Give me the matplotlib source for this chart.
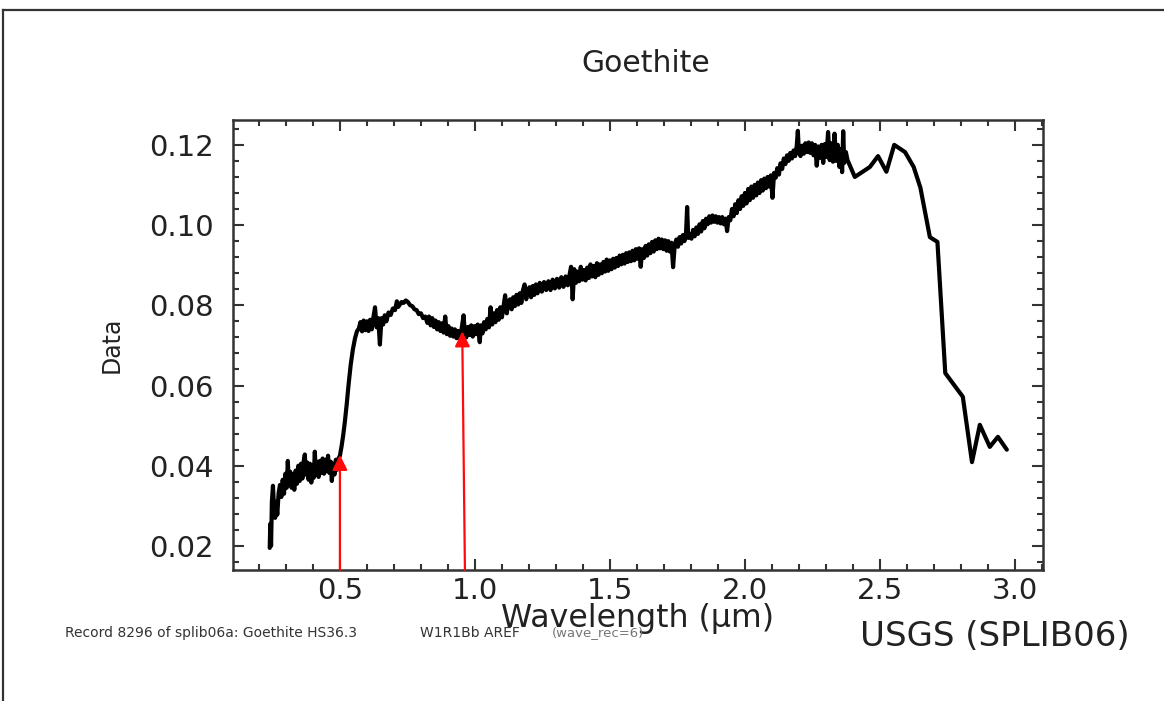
import matplotlib
matplotlib.use("Agg")
import matplotlib.pyplot as plt
from matplotlib.lines import Line2D
from matplotlib.ticker import MultipleLocator

plt.rcParams['font.family'] = ['DejaVu Sans']

# Reflectance spectrum of goethite (wavelength in micrometres, reflectance)
wavelength = [
    0.240, 0.242, 0.245, 0.248, 0.252, 0.256, 0.260, 0.264, 0.268, 0.273,
    0.278, 0.283, 0.288, 0.293, 0.298, 0.303, 0.307, 0.311, 0.316, 0.321,
    0.326, 0.331, 0.336, 0.341, 0.346, 0.351, 0.356, 0.361, 0.366, 0.370,
    0.374, 0.379, 0.384, 0.389, 0.394, 0.399, 0.403, 0.407, 0.411, 0.416,
    0.421, 0.426, 0.431, 0.436, 0.441, 0.446, 0.451, 0.456, 0.461, 0.466,
    0.470, 0.475, 0.480, 0.485, 0.490, 0.495, 0.500, 0.506, 0.512, 0.518,
    0.525, 0.532, 0.540, 0.548, 0.556, 0.563, 0.570, 0.576, 0.582, 0.588,
    0.594, 0.600, 0.606, 0.612, 0.618, 0.624, 0.630, 0.636, 0.642, 0.648,
    0.654, 0.660, 0.666, 0.672, 0.680, 0.688, 0.696, 0.704, 0.711, 0.716,
    0.722, 0.728, 0.736, 0.744, 0.752, 0.760, 0.768, 0.776, 0.784, 0.792,
    0.800, 0.808, 0.816, 0.824, 0.830, 0.836, 0.842, 0.848, 0.854, 0.860,
    0.866, 0.872, 0.878, 0.884, 0.890, 0.896, 0.902, 0.908, 0.914, 0.920,
    0.926, 0.932, 0.938, 0.944, 0.950, 0.958, 0.962, 0.968, 0.974, 0.980,
    0.986, 0.992, 0.998, 1.004, 1.010, 1.018, 1.022, 1.028, 1.034, 1.040,
    1.046, 1.052, 1.058, 1.064, 1.070, 1.076, 1.082, 1.088, 1.094, 1.100,
    1.106, 1.112, 1.118, 1.124, 1.130, 1.136, 1.142, 1.148, 1.154, 1.160,
    1.166, 1.172, 1.178, 1.184, 1.190, 1.196, 1.202, 1.208, 1.214, 1.220,
    1.226, 1.232, 1.240, 1.248, 1.256, 1.264, 1.272, 1.280, 1.288, 1.296,
    1.304, 1.312, 1.320, 1.328, 1.336, 1.344, 1.350, 1.356, 1.362, 1.368,
    1.374, 1.380, 1.386, 1.392, 1.398, 1.404, 1.410, 1.416, 1.422, 1.428,
    1.434, 1.440, 1.446, 1.452, 1.458, 1.464, 1.470, 1.476, 1.482, 1.488,
    1.494, 1.500, 1.506, 1.512, 1.518, 1.524, 1.530, 1.536, 1.542, 1.548,
    1.554, 1.560, 1.566, 1.572, 1.578, 1.584, 1.590, 1.596, 1.602, 1.608,
    1.614, 1.620, 1.626, 1.632, 1.638, 1.644, 1.650, 1.656, 1.662, 1.668,
    1.674, 1.680, 1.686, 1.692, 1.698, 1.704, 1.710, 1.716, 1.722, 1.728,
    1.734, 1.740, 1.746, 1.752, 1.758, 1.764, 1.770, 1.776, 1.782, 1.786,
    1.790, 1.796, 1.802, 1.808, 1.814, 1.820, 1.826, 1.832, 1.838, 1.844,
    1.850, 1.856, 1.862, 1.868, 1.874, 1.880, 1.886, 1.892, 1.898, 1.904,
    1.910, 1.916, 1.922, 1.928, 1.934, 1.940, 1.946, 1.952, 1.958, 1.964,
    1.970, 1.976, 1.982, 1.988, 1.994, 2.000, 2.006, 2.012, 2.018, 2.024,
    2.030, 2.036, 2.042, 2.048, 2.054, 2.060, 2.066, 2.072, 2.078, 2.084,
    2.090, 2.096, 2.102, 2.108, 2.114, 2.120, 2.126, 2.132, 2.138, 2.144,
    2.150, 2.156, 2.162, 2.168, 2.174, 2.180, 2.186, 2.192, 2.196, 2.200,
    2.206, 2.212, 2.218, 2.224, 2.230, 2.236, 2.242, 2.248, 2.254, 2.260,
    2.266, 2.272, 2.278, 2.284, 2.290, 2.296, 2.302, 2.308, 2.314, 2.320,
    2.326, 2.332, 2.338, 2.344, 2.350, 2.356, 2.360, 2.364, 2.368, 2.374,
    2.380, 2.407, 2.463, 2.493, 2.524, 2.553, 2.593, 2.625, 2.650, 2.685,
    2.713, 2.742, 2.807, 2.841, 2.870, 2.907, 2.937, 2.970,
]

reflectance = [
    0.0195, 0.0255, 0.0200, 0.0310, 0.0350, 0.0295, 0.0270, 0.0310, 0.0278, 0.0332,
    0.0352, 0.0322, 0.0365, 0.0330, 0.0380, 0.0345, 0.0412, 0.0352, 0.0385, 0.0345,
    0.0378, 0.0340, 0.0388, 0.0355, 0.0400, 0.0362, 0.0405, 0.0368, 0.0412, 0.0428,
    0.0378, 0.0408, 0.0365, 0.0405, 0.0358, 0.0400, 0.0370, 0.0435, 0.0378, 0.0410,
    0.0372, 0.0412, 0.0382, 0.0418, 0.0380, 0.0415, 0.0386, 0.0425, 0.0382, 0.0410,
    0.0362, 0.0405, 0.0378, 0.0415, 0.0390, 0.0418, 0.0425, 0.0448, 0.0475, 0.0508,
    0.0552, 0.0602, 0.0652, 0.0690, 0.0718, 0.0735, 0.0742, 0.0758, 0.0735, 0.0762,
    0.0738, 0.0760, 0.0736, 0.0764, 0.0740, 0.0770, 0.0795, 0.0745, 0.0768, 0.0702,
    0.0768, 0.0752, 0.0775, 0.0760, 0.0782, 0.0776, 0.0792, 0.0788, 0.0810, 0.0796,
    0.0802, 0.0808, 0.0806, 0.0812, 0.0808, 0.0800, 0.0798, 0.0790, 0.0788, 0.0778,
    0.0780, 0.0768, 0.0772, 0.0756, 0.0772, 0.0750, 0.0768, 0.0746, 0.0762, 0.0740,
    0.0758, 0.0736, 0.0755, 0.0732, 0.0772, 0.0728, 0.0748, 0.0724, 0.0742, 0.0722,
    0.0740, 0.0718, 0.0736, 0.0716, 0.0738, 0.0775, 0.0735, 0.0720, 0.0746, 0.0726,
    0.0750, 0.0722, 0.0748, 0.0728, 0.0752, 0.0708, 0.0750, 0.0730, 0.0758, 0.0740,
    0.0766, 0.0745, 0.0795, 0.0752, 0.0780, 0.0758, 0.0788, 0.0764, 0.0795, 0.0770,
    0.0798, 0.0825, 0.0780, 0.0808, 0.0815, 0.0790, 0.0820, 0.0798, 0.0826, 0.0802,
    0.0830, 0.0806, 0.0838, 0.0852, 0.0815, 0.0838, 0.0845, 0.0820, 0.0848, 0.0826,
    0.0852, 0.0830, 0.0856, 0.0834, 0.0858, 0.0838, 0.0860, 0.0838, 0.0864, 0.0842,
    0.0866, 0.0844, 0.0870, 0.0846, 0.0872, 0.0850, 0.0874, 0.0896, 0.0815, 0.0890,
    0.0856, 0.0884, 0.0860, 0.0896, 0.0864, 0.0888, 0.0862, 0.0894, 0.0868, 0.0902,
    0.0872, 0.0898, 0.0870, 0.0905, 0.0876, 0.0902, 0.0880, 0.0908, 0.0884, 0.0914,
    0.0886, 0.0912, 0.0890, 0.0916, 0.0894, 0.0918, 0.0898, 0.0924, 0.0902, 0.0926,
    0.0904, 0.0930, 0.0908, 0.0932, 0.0910, 0.0936, 0.0912, 0.0940, 0.0916, 0.0942,
    0.0896, 0.0940, 0.0918, 0.0948, 0.0924, 0.0952, 0.0930, 0.0958, 0.0934, 0.0962,
    0.0940, 0.0966, 0.0942, 0.0964, 0.0940, 0.0962, 0.0936, 0.0960, 0.0934, 0.0956,
    0.0895, 0.0950, 0.0964, 0.0946, 0.0970, 0.0954, 0.0975, 0.0960, 0.0982, 0.1045,
    0.0968, 0.0978, 0.0966, 0.0988, 0.0972, 0.0994, 0.0978, 0.1002, 0.0984, 0.1010,
    0.0992, 0.1016, 0.1002, 0.1022, 0.1006, 0.1024, 0.1008, 0.1022, 0.1006, 0.1020,
    0.1004, 0.1020, 0.1002, 0.1016, 0.0985, 0.1020, 0.1012, 0.1040, 0.1022, 0.1052,
    0.1030, 0.1062, 0.1040, 0.1072, 0.1048, 0.1080, 0.1054, 0.1090, 0.1062, 0.1096,
    0.1068, 0.1100, 0.1074, 0.1106, 0.1080, 0.1112, 0.1086, 0.1116, 0.1092, 0.1120,
    0.1096, 0.1124, 0.1068, 0.1130, 0.1118, 0.1142, 0.1126, 0.1154, 0.1140, 0.1166,
    0.1152, 0.1174, 0.1160, 0.1180, 0.1166, 0.1186, 0.1172, 0.1198, 0.1235, 0.1180,
    0.1172, 0.1198, 0.1178, 0.1204, 0.1182, 0.1206, 0.1180, 0.1204, 0.1174, 0.1200,
    0.1148, 0.1196, 0.1168, 0.1200, 0.1155, 0.1202, 0.1170, 0.1232, 0.1162, 0.1204,
    0.1158, 0.1228, 0.1160, 0.1200, 0.1145, 0.1190, 0.1132, 0.1234, 0.1155, 0.1182,
    0.1162, 0.1120, 0.1145, 0.1172, 0.1133, 0.1200, 0.1182, 0.1145, 0.1093, 0.0970,
    0.0958, 0.0631, 0.0572, 0.0409, 0.0502, 0.0447, 0.0472, 0.0440,
]

# Absorption features marked with arrows
arrow_base_x = [0.500, 0.963]
arrow_tip_x = [0.500, 0.953]
arrow_tip_y = [0.0427, 0.0735]

x_ticks = [0.5, 1.0, 1.5, 2.0, 2.5, 3.0]
y_ticks = [0.02, 0.04, 0.06, 0.08, 0.10, 0.12]

W, H = 1164, 701
fig = plt.figure(figsize=(W / 100, H / 100), dpi=100)
fig.patch.set_facecolor('white')

ax = fig.add_axes([233 / W, 1 - 570 / H, (1043 - 233) / W, (570 - 120) / H])
ax.set_xlim(0.104, 3.104)
ax.set_ylim(0.014, 0.1262)

ax.plot(wavelength, reflectance, color='black', lw=3.0,
        solid_joinstyle='round', solid_capstyle='round')

for bx, tx, ty in zip(arrow_base_x, arrow_tip_x, arrow_tip_y):
    ax.annotate('', xy=(tx, ty), xytext=(bx, 0.014),
                arrowprops=dict(arrowstyle='-|>,head_length=0.9,head_width=0.45',
                                color='#ff0a0a', lw=1.6, shrinkA=0, shrinkB=0))

axis_col = '#333333'
for s in ax.spines.values():
    s.set_color(axis_col)
    s.set_linewidth(1.8)

ax.set_xticks(x_ticks)
ax.set_xticklabels([f'{v:.1f}' for v in x_ticks])
ax.set_yticks(y_ticks)
ax.set_yticklabels([f'{v:.2f}' for v in y_ticks])
ax.xaxis.set_minor_locator(MultipleLocator(0.1))
ax.yaxis.set_minor_locator(MultipleLocator(0.004))
ax.tick_params(which='both', direction='in', top=True, right=True,
               color=axis_col, width=1.5)
ax.tick_params(which='major', length=8, labelsize=21, labelcolor='#222222')
ax.tick_params(which='minor', length=4.5)
ax.tick_params(axis='y', which='major', pad=14)
ax.tick_params(axis='x', which='major', pad=5)

fig.text(646 / W, 1 - 63 / H, 'Goethite', ha='center', va='center',
         fontsize=21.5, color='#222222')
fig.text(112 / W, 1 - 345 / H, 'Data', ha='center', va='center',
         rotation=90, fontsize=17, color='#222222')
fig.text(638 / W, 1 - 618 / H, 'Wavelength (µm)', ha='center', va='center',
         fontsize=22.8, color='#222222')
fig.text(860 / W, 1 - 637 / H, 'USGS (SPLIB06)', ha='left', va='center',
         fontsize=24.5, color='#222222')
fig.text(65 / W, 1 - 633 / H, 'Record 8296 of splib06a: Goethite HS36.3',
         ha='left', va='center', fontsize=10, color='#333333')
fig.text(420 / W, 1 - 633 / H, 'W1R1Bb AREF', ha='left', va='center',
         fontsize=10, color='#333333')
fig.text(552 / W, 1 - 633 / H, '(wave_rec=6)', ha='left', va='center',
         fontsize=9.5, color='#777777')

# Outer frame along the top and left edges
fig.add_artist(Line2D([3 / W, 1.0], [1 - 10 / H, 1 - 10 / H],
                      transform=fig.transFigure, color='#333333', lw=1.6))
fig.add_artist(Line2D([3 / W, 3 / W], [0.0, 1 - 10 / H],
                      transform=fig.transFigure, color='#333333', lw=1.6))

fig.savefig('out.png', dpi=100, facecolor='white')
